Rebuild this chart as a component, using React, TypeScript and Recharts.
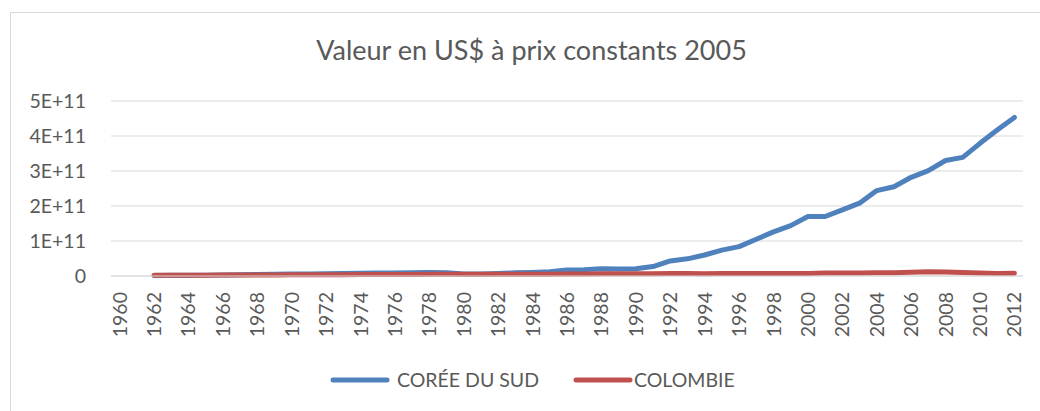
import React from "react";
import { LineChart, Line, XAxis, YAxis, CartesianGrid, Legend } from "recharts";

// years on the category axis
const years = [
  1960, 1961, 1962, 1963, 1964, 1965, 1966, 1967, 1968, 1969,
  1970, 1971, 1972, 1973, 1974, 1975, 1976, 1977, 1978, 1979,
  1980, 1981, 1982, 1983, 1984, 1985, 1986, 1987, 1988, 1989,
  1990, 1991, 1992, 1993, 1994, 1995, 1996, 1997, 1998, 1999,
  2000, 2001, 2002, 2003, 2004, 2005, 2006, 2007, 2008, 2009,
  2010, 2011, 2012,
];

// values in billions of US$
const coree = [
  null, null, 1.5, 1.8, 2.1, 2.5, 3, 3.5, 4.2, 5,
  5.5, 6, 6.5, 7.5, 8, 8.3, 8.8, 9.3, 10, 9.5,
  5.5, 6, 7, 9, 10, 12, 17, 18, 21, 20,
  21, 27, 43, 49, 60, 74, 84, 105, 126, 144,
  170, 170, 189, 208, 244, 255, 282, 301, 330, 339,
  379, 417, 453,
];

const colombie = [
  null, null, 2.0, 2.1, 2.2, 2.4, 2.6, 2.8, 3.0, 3.2,
  3.4, 3.5, 3.7, 3.9, 4.0, 4.1, 4.3, 4.5, 4.8, 5.0,
  5.1, 5.0, 4.9, 4.9, 5.1, 5.3, 5.6, 5.9, 6.1, 6.3,
  6.5, 6.6, 7.0, 7.3, 6.5, 6.8, 6.9, 7.0, 7.2, 6.8,
  7.0, 8.5, 8.3, 8.4, 9.0, 9.5, 10.5, 12.0, 11.5, 10.0,
  8.5, 7.5, 7.8,
];

const yTicks = [0, 1e11, 2e11, 3e11, 4e11, 5e11];
const yLabels = ["0", "1E+11", "2E+11", "3E+11", "4E+11", "5E+11"];

const BLUE = "#4f81bd";
const RED = "#c0504d";
const TEXT = "#595959";
const FONT = "Lato, 'Open Sans', sans-serif";
const FS = 19.5;

const data = years.map((y, i) => ({
  year: y,
  coree: coree[i] == null ? null : (coree[i] as number) * 1e9,
  colombie: colombie[i] == null ? null : (colombie[i] as number) * 1e9,
}));

function YearTick({ x, y, payload }: any) {
  return (
    <text
      x={0}
      y={0}
      dy="0.36em"
      textAnchor="end"
      fill={TEXT}
      fontSize={FS}
      fontFamily={FONT}
      transform={`translate(${x},${y + 16}) rotate(-90)`}
    >
      {payload.value}
    </text>
  );
}

function LegendBox() {
  const items = [
    { name: "CORÉE DU SUD", color: BLUE, x: 333, w: 54, tx: 397 },
    { name: "COLOMBIE", color: RED, x: 576, w: 54, tx: 634 },
  ];
  return (
    <svg width={1040} height={30} style={{ display: "block" }}>
      {items.map((it) => (
        <g key={it.name}>
          <line x1={it.x} x2={it.x + it.w} y1={15} y2={15} stroke={it.color} strokeWidth={5} strokeLinecap="round" />
          <text x={it.tx} y={15} dy="0.36em" fill={TEXT} fontSize={FS} fontFamily={FONT}>
            {it.name}
          </text>
        </g>
      ))}
    </svg>
  );
}

export default function App() {
  return (
    <div style={{ position: "fixed", left: 0, top: 0, width: 1040, height: 411, overflow: "hidden", background: "#fff" }}>
      <div
        style={{
          position: "absolute",
          left: 10,
          top: 12,
          width: 1060,
          height: 430,
          border: "1px solid #d9d9d9",
        }}
      />
      <svg width={1040} height={80} style={{ position: "absolute", left: 0, top: 0 }}>
        <text x={531.5} y={60} textAnchor="middle" fill={TEXT} fontSize={27} fontFamily={FONT}>
          Valeur en US$ à prix constants 2005
        </text>
      </svg>
      <div style={{ position: "absolute", left: 0, top: 0 }}>
        <LineChart width={1040} height={411} data={data} margin={{ top: 101, right: 17, bottom: 0, left: 0 }}>
          <CartesianGrid vertical={false} stroke="#d9d9d9" strokeWidth={1} />
          <XAxis
            dataKey="year"
            interval={1}
            tick={<YearTick />}
            tickLine={false}
            tickSize={0}
            tickMargin={0}
            axisLine={{ stroke: "#d9d9d9" }}
            padding={{ left: 8.6, right: 8.6 }}
            height={105}
          />
          <YAxis
            domain={[0, 5e11]}
            ticks={yTicks}
            tickFormatter={(v: number) => yLabels[yTicks.indexOf(v)]}
            width={111}
            tickSize={0}
            tickMargin={25}
            axisLine={false}
            tickLine={false}
            tick={{ fill: TEXT, fontSize: FS, fontFamily: FONT }}
          />
          <Legend
            content={<LegendBox />}
            wrapperStyle={{ position: "absolute", left: 0, top: 365, width: 1040 }}
          />
          <Line
            type="linear"
            dataKey="coree"
            name="CORÉE DU SUD"
            stroke={BLUE}
            strokeWidth={5}
            strokeLinecap="round"
            strokeLinejoin="round"
            dot={false}
            isAnimationActive={false}
          />
          <Line
            type="linear"
            dataKey="colombie"
            name="COLOMBIE"
            stroke={RED}
            strokeWidth={5}
            strokeLinecap="round"
            strokeLinejoin="round"
            dot={false}
            isAnimationActive={false}
          />
        </LineChart>
      </div>
    </div>
  );
}
